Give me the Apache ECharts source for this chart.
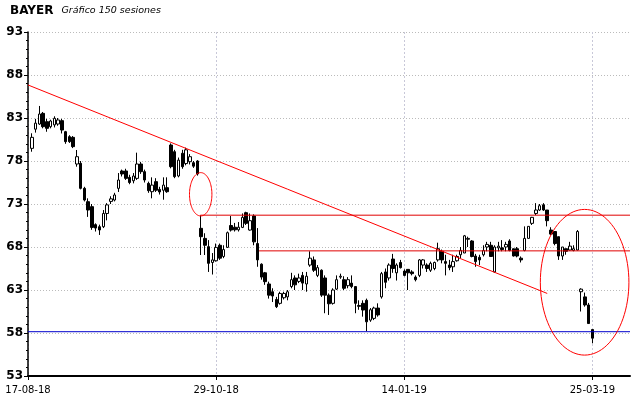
<!DOCTYPE html>
<html><head><meta charset="utf-8">
<script src="https://cdn.jsdelivr.net/npm/echarts@6.0.0/dist/echarts.min.js"></script>
<style>html,body{margin:0;padding:0;background:#fff}#c{width:640px;height:398px}</style>
</head><body><div id="c"></div>
<script>
// tick labels shown every 50 sessions on the x axis
const tickLabels = ['17-08-18','29-10-18','14-01-19','25-03-19'];
const tickEvery = 50;
const padSessions = 10; // empty sessions to the right of the last candle

// OHLC for the 150 sessions
const opens = [79.47,81.7,82.3,83.54,82.57,81.99,82.2,82.3,82.69,81.41,80.83,80.75,77.65,77.73,74.82,73.27,72.69,70.6,70.36,70.36,71.9,73.3,73.46,74.82,76.84,76.84,76.1,75.7,75.98,77.65,76.76,75.4,74.43,75.6,74.7,74.6,74.9,79.86,79.08,76.26,78.9,77.7,77.92,77.8,78.0,
70.17,69.0,68.04,66.2,66.4,68.2,66.9,67.96,70.5,70.3,70.0,70.28,71.99,69.97,71.6,68.4,66.0,65.0,63.7,62.8,61.9,61.45,62.1,62.2,63.4,64.4,64.0,64.7,63.7,65.9,66.5,64.7,65.3,64.4,62.4,61.45,63.1,64.5,64.2,63.5,63.8,63.4,61.2,61.45,61.8,59.5,59.7,60.9,
62.2,65.1,64.4,66.6,65.0,66.2,65.2,65.4,65.1,64.5,64.7,65.9,65.9,65.3,65.5,66.5,67.5,66.3,65.9,65.7,66.4,67.1,67.3,68.9,68.7,66.95,66.8,67.1,68.0,68.2,65.1,67.9,67.9,68.0,68.7,67.8,67.8,66.7,67.6,69.0,70.75,71.9,72.3,72.9,72.3,69.97,69.8,69.2,66.95,67.8,67.65,67.6,67.65,62.8,62.2,61.26,58.4];
const highs = [81.22,82.9,84.4,83.7,82.9,82.8,83.2,83.0,82.9,81.5,81.0,80.9,79.28,78.0,75.0,73.66,73.0,70.75,70.6,72.3,73.1,73.9,74.3,76.6,77.0,77.1,76.4,76.6,78.97,77.9,77.0,75.6,76.1,76.0,75.0,76.1,76.1,80.05,79.3,78.4,79.3,79.55,78.8,78.0,78.1,
71.68,69.6,68.8,67.3,68.4,68.4,68.2,69.8,71.6,70.8,70.9,71.9,72.1,71.9,71.8,70.2,66.1,65.1,63.97,63.2,62.2,62.8,62.8,63.0,65.0,64.7,64.9,65.1,65.1,67.5,66.9,65.9,65.4,64.7,62.6,63.2,64.7,64.9,64.6,64.5,64.7,63.4,61.8,61.8,62.0,60.9,61.06,61.45,
65.1,65.5,66.1,67.2,66.1,66.5,65.4,65.4,65.3,64.7,66.6,66.6,66.1,66.3,66.3,68.5,67.7,67.1,66.5,67.1,67.1,68.0,69.4,69.2,68.8,67.2,67.1,68.2,68.6,68.6,68.2,68.6,68.8,68.6,68.9,67.8,68.0,66.9,70.4,70.4,71.5,73.1,73.0,73.1,72.3,70.3,69.8,69.2,68.0,67.8,68.6,68.2,69.97,63.2,62.7,61.5,58.4];
const lows = [79.08,81.3,82.2,81.8,81.4,81.8,81.9,82.1,81.2,80.0,80.1,79.5,77.34,74.7,73.3,71.5,70.0,69.8,69.4,70.2,71.1,73.0,73.3,74.4,76.2,75.8,75.3,75.4,75.8,76.5,75.5,74.3,73.66,74.4,74.1,73.5,74.3,77.15,76.0,76.1,77.1,77.5,77.6,77.2,76.3,
67.07,67.07,65.1,64.8,66.3,66.5,66.7,67.9,69.8,69.8,69.8,70.2,70.56,69.9,68.2,65.7,64.2,63.6,62.0,61.6,60.9,61.3,61.9,61.8,63.2,63.0,63.8,63.0,62.8,65.7,65.1,64.5,62.2,60.3,60.1,61.3,63.0,64.3,63.0,63.2,63.2,60.3,60.7,59.9,58.2,59.3,59.5,59.9,
62.0,63.2,64.1,65.0,64.1,65.5,64.6,63.0,64.7,64.0,64.5,65.5,65.1,65.1,65.3,66.3,66.1,64.7,65.3,65.1,66.3,66.7,67.3,68.0,66.8,65.7,65.9,66.9,67.5,66.9,65.0,67.5,67.5,67.5,67.5,66.9,66.8,66.2,67.5,69.0,70.56,71.7,72.2,72.2,70.4,69.4,68.2,66.5,66.5,67.1,67.6,67.5,67.6,60.5,61.06,59.1,56.8];
const closes = [80.75,82.4,83.46,81.99,81.8,82.65,82.96,82.77,81.6,80.25,80.25,79.67,78.5,74.82,73.46,72.3,70.28,70.2,69.98,71.9,72.9,73.6,74.05,75.79,76.49,75.98,75.5,76.25,77.65,76.76,75.79,74.55,75.2,74.6,74.4,75.2,74.43,77.34,76.18,78.1,77.34,79.3,78.5,77.4,76.5,
69.2,68.2,66.1,66.5,67.96,66.7,67.7,69.66,69.97,70.0,70.3,71.45,70.75,71.06,68.6,66.5,64.5,63.97,62.4,62.3,61.06,62.6,62.6,62.8,64.2,63.6,64.4,63.8,64.6,66.7,65.3,65.6,62.4,62.4,61.4,63.0,64.2,64.6,63.2,64.2,63.4,61.45,61.1,60.67,59.3,60.7,60.9,60.1,
64.9,63.9,65.9,65.5,65.9,65.6,64.7,65.0,64.9,64.2,66.5,66.5,65.5,66.1,66.2,67.8,66.5,66.1,65.6,66.3,66.9,67.6,69.3,69.0,66.9,66.3,66.5,67.6,68.3,66.9,68.0,68.1,67.7,68.3,67.6,66.95,66.95,66.5,69.0,70.4,71.45,72.3,72.8,72.3,71.06,69.5,68.4,66.95,68.0,67.5,68.1,67.8,69.8,63.1,61.26,59.1,57.4];

// annotations (x in session-slot units from the axis origin, y in price)
const trendLine = [[0, 86.84], [138.0, 62.6]];
const resistanceHigh = [[45.8, 71.7], [160, 71.7]];
const resistanceLow = [[61.4, 67.55], [160, 67.55]];
const supportLine = [[0, 58.15], [160, 58.15]];
const ellipses = [[45.9, 74.13, 2.98, 2.52], [147.94, 63.9, 11.77, 8.47]]; // cx, cy, rx, ry

const nCats = 1 + opens.length + padSessions;
const categories = [];
for (let i = 0; i < nCats; i++) categories.push(i % tickEvery === 0 ? (tickLabels[i / tickEvery] || '') : String(i));
const candleData = [];
for (let i = 0; i < nCats; i++) {
  const s = i - 1;
  if (s >= 0 && s < opens.length) candleData.push([opens[s], closes[s], lows[s], highs[s]]);
  else candleData.push('-');
}

const chart = echarts.init(document.getElementById('c'), null, {renderer: 'canvas'});
const lineSeries = (data, color) => ({
  type: 'line', xAxisIndex: 1, yAxisIndex: 0, data, symbol: 'none', silent: true, z: 5,
  lineStyle: {color, width: 1}, animation: false
});
chart.setOption({
  animation: false,
  backgroundColor: '#fff',
  title: {
    left: 10, top: 5, padding: 0,
    text: '{a|BAYER}{b|Gráfico 150 sesiones}',
    textStyle: {rich: {
      a: {fontFamily: 'DejaVu Sans', fontWeight: 'bold', fontSize: 12, color: '#000'},
      b: {fontFamily: 'DejaVu Sans', fontStyle: 'italic', fontWeight: 'normal', fontSize: 9.5, color: '#000', padding: [0, 0, 0, 8]}
    }}
  },
  grid: {left: 28, right: 10, top: 32, bottom: 22},
  xAxis: [{
    type: 'category', data: categories, boundaryGap: false,
    axisLine: {lineStyle: {color: '#000', width: 2}},
    axisTick: {interval: tickEvery - 1, length: 4, lineStyle: {color: '#000'}},
    axisLabel: {interval: tickEvery - 1, color: '#000', fontFamily: 'DejaVu Sans', fontSize: 10, margin: 9,
      formatter: v => (tickLabels.indexOf(v) >= 0 ? v : '')},
    splitLine: {show: true, interval: tickEvery - 1, lineStyle: {color: '#c8c8d8', type: [2, 2], width: 1}}
  }, {
    type: 'value', min: 0, max: nCats - 1, show: false
  }],
  yAxis: {
    type: 'value', min: 53, max: 93, interval: 5,
    axisLine: {show: true, lineStyle: {color: '#000', width: 1.5}},
    axisTick: {show: true, length: 4, lineStyle: {color: '#000'}},
    minorTick: {show: true, splitNumber: 5, length: 2, lineStyle: {color: '#000'}},
    axisLabel: {color: '#000', fontFamily: 'DejaVu Sans', fontWeight: 'bold', fontSize: 12, margin: 5},
    splitLine: {show: true, lineStyle: {color: '#bbbbbb', type: [1, 2], width: 1}}
  },
  series: [{
    type: 'candlestick', data: candleData, barWidth: 3, z: 3,
    itemStyle: {color: '#ffffff', color0: '#000000', borderColor: '#000000', borderColor0: '#000000', borderWidth: 1}
  },
  lineSeries(trendLine, '#ff0000'),
  lineSeries(resistanceHigh, '#e00000'),
  lineSeries(resistanceLow, '#e00000'),
  lineSeries(supportLine, '#0000cc'),
  {
    type: 'custom', xAxisIndex: 1, yAxisIndex: 0, data: ellipses, silent: true, z: 6, clip: false,
    renderItem: function (params, api) {
      const cx = api.value(0), cy = api.value(1), rx = api.value(2), ry = api.value(3);
      const pts = [];
      for (let k = 0; k <= 96; k++) {
        const a = k / 96 * Math.PI * 2;
        pts.push(api.coord([cx + rx * Math.cos(a), cy + ry * Math.sin(a)]));
      }
      return {type: 'polyline', shape: {points: pts, smooth: false}, style: {fill: null, stroke: '#ff0000', lineWidth: 1}};
    }
  }]
});
</script></body></html>
